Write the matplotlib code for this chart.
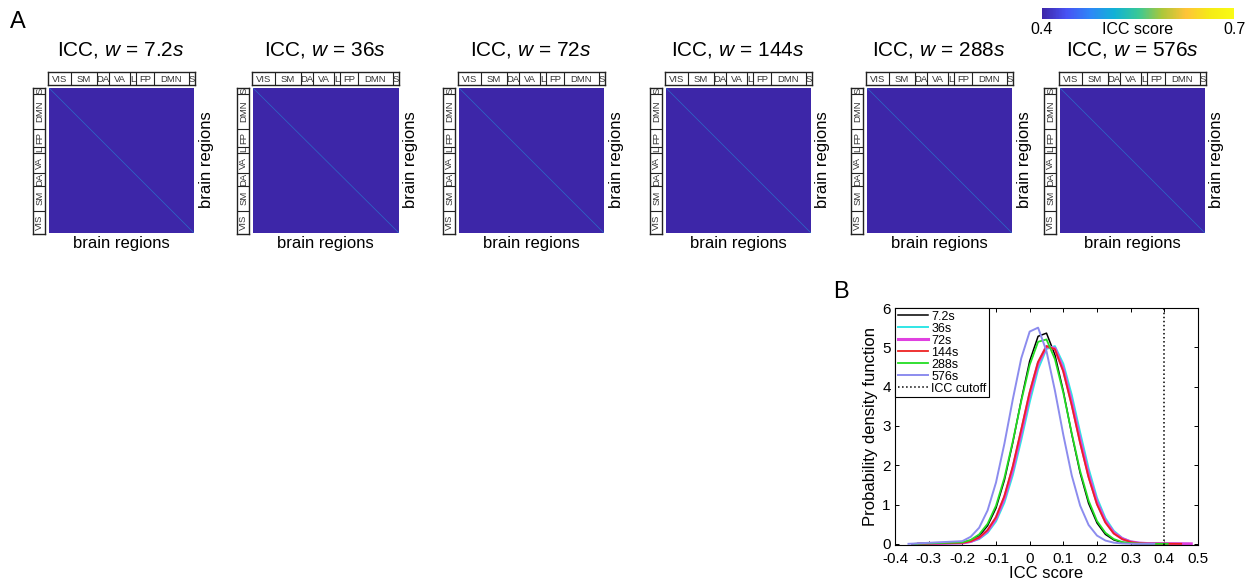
import numpy as np
import matplotlib
matplotlib.use("Agg")
import matplotlib.pyplot as plt
from matplotlib.colors import LinearSegmentedColormap

plt.rcParams['font.family'] = ['Liberation Sans', 'DejaVu Sans']
plt.rcParams['mathtext.fontset'] = 'custom'
plt.rcParams['mathtext.rm'] = 'Liberation Sans'
plt.rcParams['mathtext.it'] = 'Liberation Sans:italic'

# ---- data ----
windows = ['7.2', '36', '72', '144', '288', '576']
network_names = ['VIS', 'SM', 'DA', 'VA', 'L', 'FP', 'DMN', 'S']
network_sizes = [42, 47, 23, 37, 11, 33, 64, 11]
offdiag_icc = [0.05, 0.05, 0.05, 0.05, 0.05, 0.05]   # all below the 0.4 cutoff
diag_icc = [0.5, 0.5, 0.5, 0.5, 0.5, 0.5]
icc_cutoff = 0.4

# pdf curves
x_core = [-0.2, -0.175, -0.15, -0.125, -0.1, -0.075, -0.05, -0.025, 0, 0.025, 0.05,
          0.075, 0.1, 0.125, 0.15, 0.175, 0.2, 0.225, 0.25, 0.275, 0.3, 0.325, 0.35]
pdf_7s = [0.029, 0.082, 0.20, 0.46, 0.91, 1.62, 2.58, 3.66, 4.65, 5.28, 5.36, 4.81,
          3.88, 2.79, 1.80, 1.03, 0.53, 0.24, 0.099, 0.036, 0.012, 0.003, 0]
pdf_36s = [0.018, 0.05, 0.12, 0.28, 0.57, 1.05, 1.75, 2.64, 3.60, 4.44, 4.96, 5.03,
           4.58, 3.79, 2.83, 1.92, 1.17, 0.65, 0.33, 0.15, 0.06, 0.022, 0.008]
pdf_72s = [0.022, 0.06, 0.15, 0.33, 0.65, 1.17, 1.91, 2.84, 3.80, 4.59, 5.02, 4.97,
           4.43, 3.59, 2.63, 1.75, 1.05, 0.57, 0.28, 0.13, 0.05, 0.019, 0.006]
pdf_144s = [0.024, 0.065, 0.16, 0.35, 0.68, 1.22, 1.98, 2.91, 3.86, 4.63, 5.03, 4.95,
            4.38, 3.52, 2.56, 1.69, 1.00, 0.54, 0.26, 0.12, 0.046, 0.017, 0.005]
pdf_288s = [0.038, 0.10, 0.24, 0.51, 0.97, 1.68, 2.61, 3.63, 4.55, 5.14, 5.20, 4.70,
            3.84, 2.81, 1.85, 1.10, 0.58, 0.28, 0.12, 0.046, 0.016, 0.005, 0]
pdf_576s = [0.068, 0.18, 0.41, 0.85, 1.56, 2.55, 3.68, 4.72, 5.40, 5.50, 4.90, 3.90,
            2.77, 1.74, 0.97, 0.48, 0.21, 0.083, 0.029, 0.009, 0.002, 0, 0]
pdfs = [pdf_7s, pdf_36s, pdf_72s, pdf_144s, pdf_288s, pdf_576s]
tail_lo = [-0.35, -0.33, -0.33, -0.33, -0.34, -0.36]
tail_hi = [0.38, 0.47, 0.48, 0.45, 0.41, 0.37]
curve_labels = ['7.2s', '36s', '72s', '144s', '288s', '576s']
curve_colors = ['#000000', '#30e6e6', '#e040e0', '#ee2222', '#22dd22', '#8c8cee']
curve_widths = [1.1, 1.4, 2.2, 1.3, 1.3, 1.4]

# parula-ish colormap
parula = LinearSegmentedColormap.from_list('parula', [
    (0.2422, 0.1504, 0.6603), (0.2810, 0.3228, 0.9579), (0.1786, 0.5289, 0.9682),
    (0.0689, 0.6948, 0.8394), (0.2161, 0.7843, 0.5923), (0.6720, 0.7793, 0.2227),
    (0.9970, 0.7659, 0.2199), (0.9598, 0.9218, 0.0851), (0.9769, 0.9839, 0.0805)])

W, H = 1247, 582
fig = plt.figure(figsize=(W / 100, H / 100), dpi=100)


def px(l, t, w, h):
    return [l / W, 1 - (t + h) / H, w / W, h / H]


n_reg = sum(network_sizes)
bounds = np.cumsum(network_sizes)
centers = bounds - np.array(network_sizes) / 2

# ---- panel A ----
lefts = [49, 253, 459, 666, 867, 1060]
for i, L in enumerate(lefts):
    mat = np.full((n_reg, n_reg), offdiag_icc[i])
    np.fill_diagonal(mat, diag_icc[i])
    ax = fig.add_axes(px(L, 88, 145, 145))
    im = ax.imshow(mat, cmap=parula, vmin=0.4, vmax=0.7, aspect='auto',
                   interpolation='antialiased', interpolation_stage='rgba')
    ax.set_xticks([])
    ax.set_yticks([])
    for s in ax.spines.values():
        s.set_visible(False)

    # network label bars
    axt = fig.add_axes(px(L - 1, 72, 147, 13))
    axt.set_xlim(0, n_reg)
    axt.set_ylim(0, 1)
    for b in bounds[:-1]:
        axt.axvline(b, color='#222222', lw=0.8)
    for name, c in zip(network_names, centers):
        axt.text(c, 0.45, name, ha='center', va='center', fontsize=6.8,
                 color='#333333')
    axl = fig.add_axes(px(L - 16, 88, 12, 146))
    axl.set_ylim(0, n_reg)
    axl.set_xlim(0, 1)
    for b in bounds[:-1]:
        axl.axhline(b, color='#222222', lw=0.8)
    for name, c in zip(network_names, centers):
        axl.text(0.55, c, name, ha='center', va='center', rotation=90, fontsize=6.8,
                 color='#333333')
    for a in (axt, axl):
        a.set_xticks([])
        a.set_yticks([])
        for s in a.spines.values():
            s.set_linewidth(1.0)
            s.set_color('#222222')

    fig.text((L + 72) / W, 1 - 50 / H, r'ICC, $w$ = ' + windows[i] + r'$s$',
             ha='center', va='center', fontsize=15)
    fig.text((L + 72) / W, 1 - 243 / H, 'brain regions', ha='center', va='center',
             fontsize=12)
    fig.text((L + 157) / W, 1 - 160 / H, 'brain regions', ha='center', va='center',
             fontsize=12, rotation=90)

# colorbar
cax = fig.add_axes(px(1042, 8, 192, 11))
cb = fig.colorbar(im, cax=cax, orientation='horizontal')
cb.set_ticks([0.4, 0.7])
cb.set_ticklabels(['0.4', '0.7'])
cb.outline.set_visible(False)
cax.tick_params(length=0, labelsize=11.5, pad=2)
cax.text(0.5, -0.25, 'ICC score', transform=cax.transAxes, ha='center', va='top',
         fontsize=11.5)

fig.text(18 / W, 1 - 22 / H, 'A', ha='center', va='center', fontsize=17)
fig.text(841 / W, 1 - 292 / H, 'B', ha='center', va='center', fontsize=17)

# ---- panel B ----
axb = fig.add_axes(px(895, 308, 303, 237))
for y, lo, hi, lab, col, lw in zip(pdfs, tail_lo, tail_hi, curve_labels, curve_colors,
                                   curve_widths):
    axb.plot([lo] + x_core + [hi], [0] + y + [0], color=col, lw=lw, label=lab)
axb.axvline(icc_cutoff, color='k', ls=':', lw=1.1, label='ICC cutoff')
axb.set_xlim(-0.4, 0.5)
axb.set_ylim(-0.03, 6)
xt = [-0.4, -0.3, -0.2, -0.1, 0, 0.1, 0.2, 0.3, 0.4, 0.5]
axb.set_xticks(xt)
axb.set_xticklabels(['-0.4', '-0.3', '-0.2', '-0.1', '0', '0.1', '0.2', '0.3', '0.4', '0.5'])
axb.set_yticks([0, 1, 2, 3, 4, 5, 6])
axb.set_yticklabels(['0', '1', '2', '3', '4', '5', '6'])
axb.tick_params(direction='in', top=True, right=True, length=3, width=0.7,
                labelsize=11)
axb.tick_params(axis='x', pad=5)
axb.tick_params(axis='y', pad=3)
for s in axb.spines.values():
    s.set_linewidth(0.8)
axb.set_xlabel('ICC score', fontsize=12, labelpad=0)
axb.set_ylabel('Probability density function', fontsize=12, labelpad=3)
leg = axb.legend(loc='upper left', bbox_to_anchor=(0, 1), borderaxespad=0,
                 fancybox=False, edgecolor='k', framealpha=1, fontsize=9,
                 labelspacing=0.0, handlelength=2.4, handletextpad=0.3,
                 borderpad=0.2)
leg.get_frame().set_linewidth(0.8)

fig.savefig('out.png', dpi=100)
